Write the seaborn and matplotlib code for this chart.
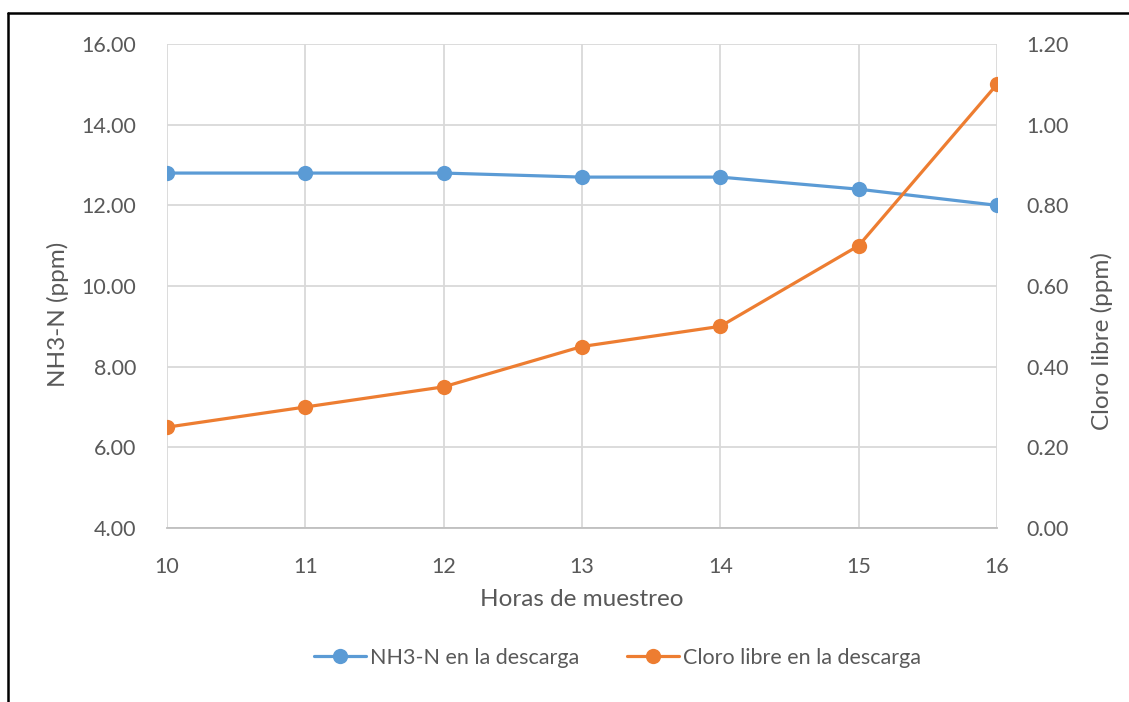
import matplotlib
matplotlib.use("Agg")
import matplotlib.pyplot as plt
from matplotlib.lines import Line2D
import seaborn as sns
import pandas as pd

horas = [10, 11, 12, 13, 14, 15, 16]
nh3_n = [12.8, 12.8, 12.8, 12.7, 12.7, 12.4, 12.0]
cloro_libre = [0.25, 0.30, 0.35, 0.45, 0.50, 0.70, 1.10]
left_ticks = [4, 6, 8, 10, 12, 14, 16]
right_ticks = [0.0, 0.2, 0.4, 0.6, 0.8, 1.0, 1.2]

sns.set_theme(style="white")
plt.rcParams["font.family"] = ["Lato", "DejaVu Sans"]

BLUE = "#5B9BD5"
ORANGE = "#ED7D31"
GRID = "#D9D9D9"
TXT = "#595959"
MS = 11

df = pd.DataFrame({"hora": horas, "nh3": nh3_n, "cloro": cloro_libre})

fig = plt.figure(figsize=(11.29, 7.02), dpi=100)
ax = fig.add_axes([167 / 1129, 1 - 528 / 702, (997 - 167) / 1129, (528 - 44) / 702])
ax2 = ax.twinx()

sns.lineplot(data=df, x="hora", y="nh3", ax=ax, color=BLUE, linewidth=2.3,
             marker="o", markersize=MS, markeredgewidth=0, label="NH3-N en la descarga",
             legend=False)
sns.lineplot(data=df, x="hora", y="cloro", ax=ax2, color=ORANGE, linewidth=2.3,
             marker="o", markersize=MS, markeredgewidth=0, label="Cloro libre en la descarga",
             legend=False)

ax.set_xlim(10, 16)
ax.set_ylim(4, 16)
ax2.set_ylim(0, 1.2)
ax.set_xticks(horas)
ax.set_yticks(left_ticks)
ax.set_yticklabels([f"{v:.2f}" for v in left_ticks])
ax2.set_yticks(right_ticks)
ax2.set_yticklabels([f"{v:.2f}" for v in right_ticks])

ax.grid(True, color=GRID, linewidth=1.3)
ax.set_axisbelow(True)
for a in (ax, ax2):
    for s in a.spines.values():
        s.set_visible(False)
    a.tick_params(length=0, labelsize=15.5, colors=TXT)
ax.spines["bottom"].set_visible(True)
ax.spines["bottom"].set_color("#BFBFBF")
ax.spines["bottom"].set_linewidth(1.3)
ax.tick_params(axis="y", pad=22)
ax.tick_params(axis="x", pad=21)
ax2.tick_params(axis="y", pad=21)

ax.set_xlabel("Horas de muestreo", fontsize=17.5, color=TXT)
ax.set_ylabel("NH3-N (ppm)", fontsize=17.5, color=TXT)
ax2.set_ylabel("Cloro libre (ppm)", fontsize=17.5, color=TXT)
ax.xaxis.set_label_coords(0.5, (528 - 600) / 484)
ax.xaxis.label.set_va("center")
ax.yaxis.set_label_coords((58 - 167) / 830, (528 - 314) / 484)
ax.yaxis.label.set_va("center")
ax2.yaxis.set_label_coords((1102 - 167) / 830, (528 - 341) / 484)
ax2.yaxis.label.set_va("center")

handles = [
    Line2D([], [], color=BLUE, linewidth=2.3, marker="o", markersize=MS, markeredgewidth=0),
    Line2D([], [], color=ORANGE, linewidth=2.3, marker="o", markersize=MS, markeredgewidth=0),
]
fig.legend(handles, ["NH3-N en la descarga", "Cloro libre en la descarga"],
           loc="center", bbox_to_anchor=(0.547, 1 - 658 / 702), ncol=2, frameon=False,
           fontsize=15.5, labelcolor=TXT, handlelength=2.4, handletextpad=0.2,
           columnspacing=2.2)

# frame edges on top and left
fig.add_artist(Line2D([8 / 1129, 1], [1 - 13 / 702, 1 - 13 / 702], color="black",
                      linewidth=1.8, transform=fig.transFigure))
fig.add_artist(Line2D([8 / 1129, 8 / 1129], [0, 1 - 13 / 702], color="black",
                      linewidth=1.8, transform=fig.transFigure))

fig.savefig("out.png", dpi=100, facecolor="white")
